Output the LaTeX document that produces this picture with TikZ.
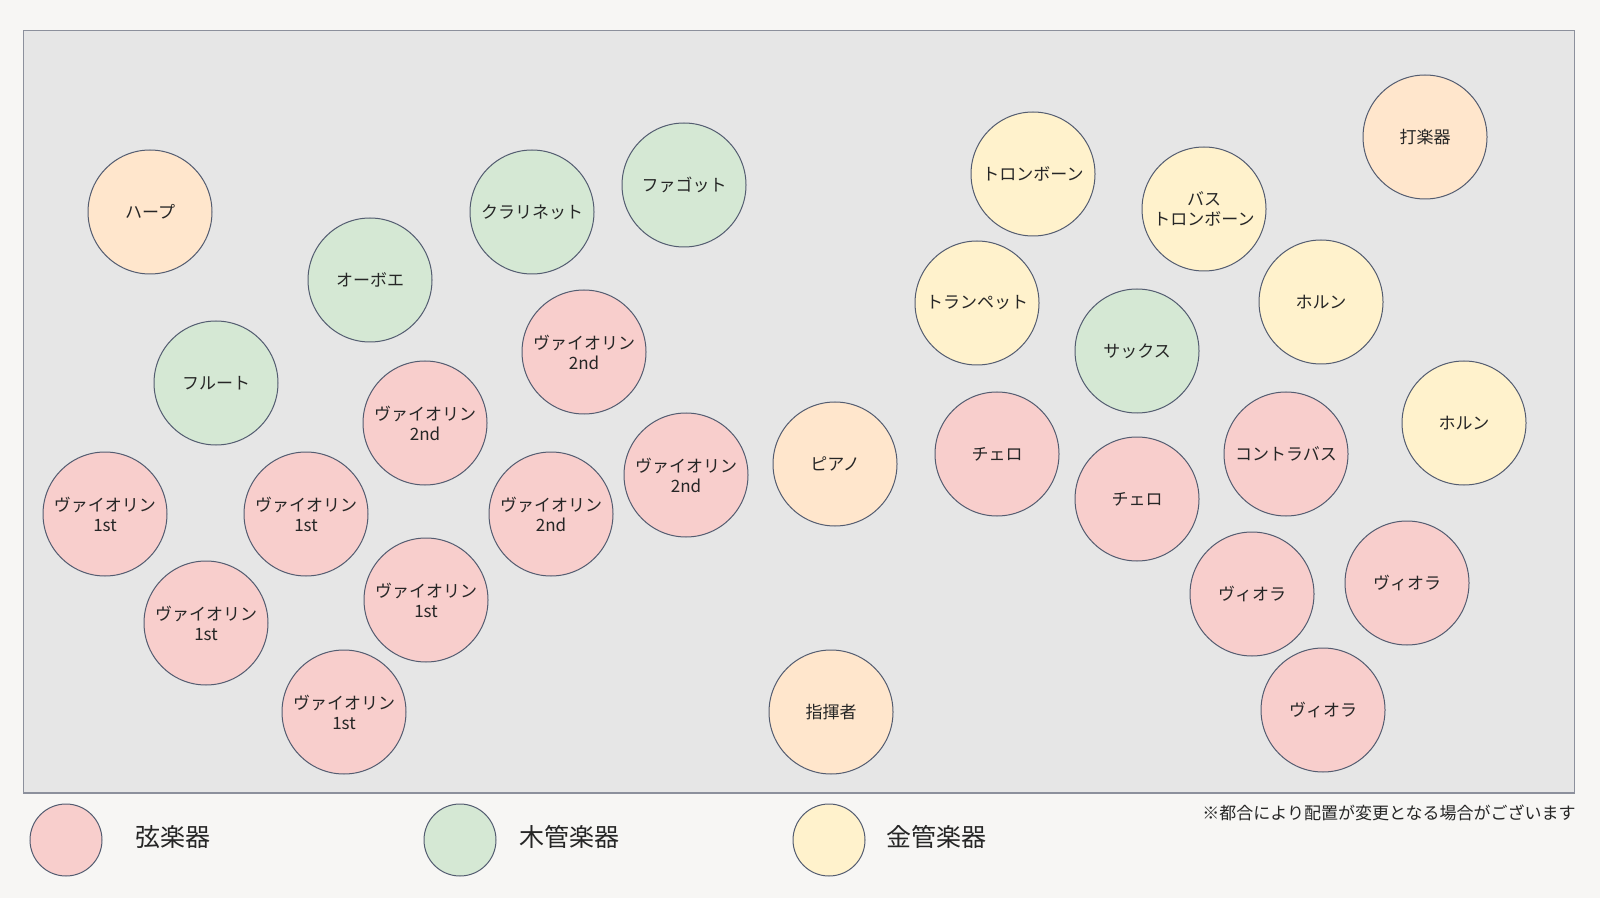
\documentclass[tikz,border=0pt]{standalone}
\usepackage{fontspec}
\setmainfont{Noto Sans CJK JP}
\usepackage{tikz}
\definecolor{outerbg}{HTML}{F7F6F4}
\definecolor{stagebg}{HTML}{E6E6E6}
\definecolor{stageline}{HTML}{8C909C}
\definecolor{ringline}{HTML}{535C70}
\definecolor{stringfill}{HTML}{F8CECC}
\definecolor{woodfill}{HTML}{D5E8D4}
\definecolor{brassfill}{HTML}{FFF2CC}
\definecolor{otherfill}{HTML}{FFE6CC}
\tikzset{
    x=0.5pt, y=-0.5pt, % one unit is one pixel of the plan
    every node/.style={text=black!85}, % sets the text colour of every node
    seat/.style={circle, draw=ringline, line width=0.5pt, minimum size=62pt, inner sep=0pt, align=center, font=\fontsize{8.5}{10}\selectfont}, % one player
    key/.style={circle, draw=ringline, line width=0.5pt, minimum size=36pt, inner sep=0pt}, % legend dot
}

\begin{document}
\begin{tikzpicture}[
                                styleString/.style={seat, fill=stringfill},
                                styleWood/.style={seat, fill=woodfill},
                                styleBrass/.style={seat, fill=brassfill},
                                styleOther/.style={seat, fill=otherfill},
                                styleKey/.style={anchor=west, font=\fontsize{12.5}{14}\selectfont},
                            ]
                            \fill[outerbg] (0,0) rectangle (1600,898);
                            \useasboundingbox (0,0) rectangle (1600,898);
                            \draw[stageline, fill=stagebg, line width=0.6pt] (23.5,30.5) rectangle (1574.5,793);
                            % strings, left side
                            \node[styleString] (vnA1) at (105,514) {ヴァイオリン\\1st};
                            \node[styleString] (vnA2) at (306,514) {ヴァイオリン\\1st};
                            \node[styleString] (vnA3) at (206,623) {ヴァイオリン\\1st};
                            \node[styleString] (vnA4) at (426,600) {ヴァイオリン\\1st};
                            \node[styleString] (vnA5) at (344,712) {ヴァイオリン\\1st};
                            \node[styleString] (vnB1) at (584,352) {ヴァイオリン\\2nd};
                            \node[styleString] (vnB2) at (425,423) {ヴァイオリン\\2nd};
                            \node[styleString] (vnB3) at (551,514) {ヴァイオリン\\2nd};
                            \node[styleString] (vnB4) at (686,475) {ヴァイオリン\\2nd};
                            % strings, right side
                            \node[styleString] (vc1) at (997,454) {チェロ};
                            \node[styleString] (vc2) at (1137,499) {チェロ};
                            \node[styleString] (cb) at (1286,454) {コントラバス};
                            \node[styleString] (va1) at (1252,594) {ヴィオラ};
                            \node[styleString] (va2) at (1407,583) {ヴィオラ};
                            \node[styleString] (va3) at (1323,710) {ヴィオラ};
                            % woodwinds
                            \node[styleWood] (fl) at (216,383) {フルート};
                            \node[styleWood] (ob) at (370,280) {オーボエ};
                            \node[styleWood] (cl) at (532,212) {クラリネット};
                            \node[styleWood] (fg) at (684,185) {ファゴット};
                            \node[styleWood] (sax) at (1137,351) {サックス};
                            % brass
                            \node[styleBrass] (tb) at (1033,174) {トロンボーン};
                            \node[styleBrass] (btb) at (1204,209) {バス\\トロンボーン};
                            \node[styleBrass] (tp) at (977,303) {トランペット};
                            \node[styleBrass] (hn1) at (1321,302) {ホルン};
                            \node[styleBrass] (hn2) at (1464,423) {ホルン};
                            % others
                            \node[styleOther] (hp) at (150,212) {ハープ};
                            \node[styleOther] (perc) at (1425,137) {打楽器};
                            \node[styleOther] (pf) at (835,464) {ピアノ};
                            \node[styleOther] (cond) at (831,712) {指揮者};
                            % legend
                            \node[key, fill=stringfill] (keyS) at (66,840) {};
                            \node[key, fill=woodfill] (keyW) at (460,840) {};
                            \node[key, fill=brassfill] (keyB) at (829,840) {};
                            \node[styleKey] (txtS) at (128,837) {弦楽器};
                            \node[styleKey] (txtW) at (512,837) {木管楽器};
                            \node[styleKey] (txtB) at (879,837) {金管楽器};
                            \node[font=\fontsize{8.5}{10}\selectfont] (note) at (1389,813) {※都合により配置が変更となる場合がございます};
                        \end{tikzpicture}
\end{document}
